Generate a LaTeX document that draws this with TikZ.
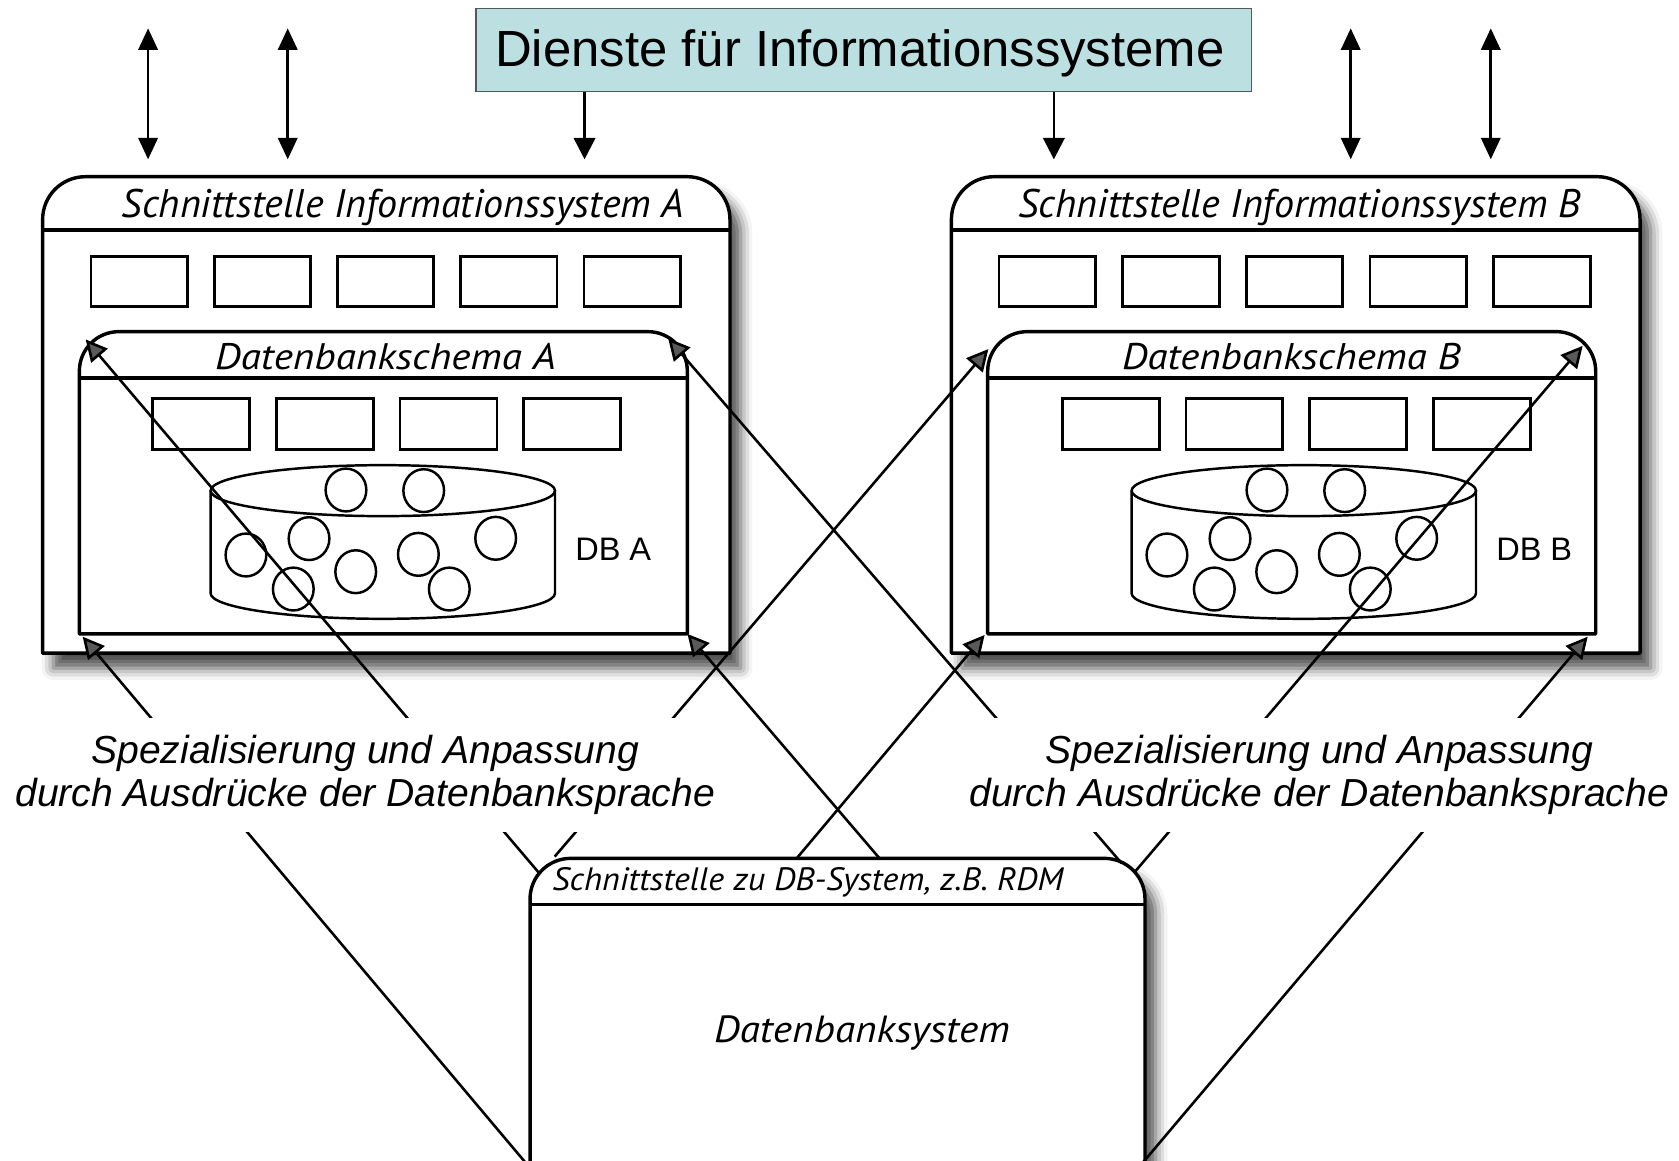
\documentclass[tikz,border=0pt]{standalone}
\usepackage{fontspec}
\setmainfont{Liberation Sans}
\newfontfamily\arialf{Liberation Sans}
\newfontfamily\myr{PT Sans}
\usetikzlibrary{arrows.meta,shadows.blur}
\definecolor{dienstfill}{RGB}{188,224,226}
\definecolor{dienstline}{RGB}{80,90,90}
\newcommand\dbcyl[3]{%
 \begin{scope}[shift={(#1,0)}]
  \draw[blob, fill=white] (-160.8,458.2) -- (-160.8,554.1)
     arc[start angle=180,end angle=0,x radius=160.8,y radius=23.8] -- (160.8,458.2);
  \draw[blob] (0,458.2) ellipse[x radius=160.8,y radius=23.8];
  \foreach \dx/\yy in {-34.4/457.6, 38.2/458.2, -127.8/518.3, -68.9/503, -83.6/550.1,
                       -25.3/533.9, 33.2/517.7, 62.1/550.1, 105.4/502.7}
    \draw[blob] (\dx,\yy) ellipse[x radius=19,y radius=20];
  \node[dblabel] (#3) at (215.2,523) {#2};
 \end{scope}}
\newcommand\topround[6]{% x1 y1 x2 y2 R style
  \path[#6] (#1,#4) -- (#1,#2+#5) to[out=90,in=180] (#1+#5,#2) -- (#3-#5,#2)
     to[out=0,in=90] (#3,#2+#5) -- (#3,#4) -- cycle;}
\newcommand\myrtext[3]{\resizebox{#1}{#2}{\myr\itshape #3}}
\begin{document}
\begin{tikzpicture}[x=1pt,y=-1pt,
  boxline/.style={line width=3.2pt, line join=round, draw=black, fill=white},
  sepline/.style={line width=3pt},
  cell/.style={line width=2.6pt},
  blob/.style={line width=2.3pt},
  conn/.style={line width=2.4pt},
  arr/.style={conn, -{Triangle[length=20pt,width=20pt]}},
  darr/.style={conn, {Triangle[length=20pt,width=18pt]}-{Triangle[length=20pt,width=18pt]}},
  shad/.style={blur shadow={shadow xshift=10pt, shadow yshift=-14pt, shadow blur radius=11pt, shadow opacity=70}},
  dblabel/.style={inner sep=0pt, anchor=base, font=\arialf\fontsize{30.4}{34}\selectfont},
  lbl/.style={fill=white, inner xsep=2pt, inner ysep=16pt, align=center,
              font=\arialf\itshape\fontsize{36.5}{40.5}\selectfont},
  ttl/.style={inner sep=0pt, anchor=base},
]
\useasboundingbox (0,0) rectangle (1568,1084);
\clip (0,0) rectangle (1568,1084);

% ---------- top box and vertical arrows
\node[draw=dienstline, line width=1.3pt, fill=dienstfill, minimum width=724.5pt,
      minimum height=77.8pt, inner sep=0pt] (dienste) at (806.75,46.7) {};
\node[inner sep=0pt, anchor=base, font=\arialf\fontsize{47.5}{52}\selectfont]
      (dienstetext) at (803,62.5) {Dienste für Informationssysteme};
\coordinate (a1t) at (138.3,26.5);  \coordinate (a1b) at (138.3,148.8);
\coordinate (a2t) at (268.7,26.5);  \coordinate (a2b) at (268.7,148.8);
\coordinate (a5t) at (1261.4,26.5); \coordinate (a5b) at (1261.4,148.8);
\coordinate (a6t) at (1392.2,26.5); \coordinate (a6b) at (1392.2,148.8);
\coordinate (a3b) at (545.9,148.8); \coordinate (a4b) at (984.2,148.8);
\draw[darr] (a1t) -- (a1b);
\draw[darr] (a2t) -- (a2b);
\draw[darr] (a5t) -- (a5b);
\draw[darr] (a6t) -- (a6b);
\draw[arr] (dienste.south -| a3b) -- (a3b);
\draw[arr] (dienste.south -| a4b) -- (a4b);

% ---------- system A
\topround{39.8}{165}{681.7}{610}{40}{boxline,shad}
\draw[sepline] (39.8,214.8) -- (681.7,214.8);
\node[ttl] (titleA) at (376.4,203) {\myrtext{525pt}{26.5pt}{Schnittstelle Informationssystem A}};
\foreach \i in {0,...,4} \draw[cell] ({84.9+115.1*\i},239.7) rectangle ++(90,46.7);
\topround{74.1}{309.7}{641.9}{592}{37}{boxline}
\draw[sepline] (74.1,353) -- (641.9,353);
\node[ttl] (schemaA) at (360,345.5) {\myrtext{318pt}{24.5pt}{Datenbankschema A}};
\foreach \i in {0,...,3} \draw[cell] ({142.6+115.5*\i},372) rectangle ++(90.5,47.6);
\dbcyl{357.5}{DB A}{dbA}

% ---------- system B
\topround{888.5}{165}{1531.6}{610}{40}{boxline,shad}
\draw[sepline] (888.5,214.8) -- (1531.6,214.8);
\node[ttl] (titleB) at (1213.8,203) {\myrtext{525pt}{26.5pt}{Schnittstelle Informationssystem B}};
\foreach \i in {0,...,4} \draw[cell] ({933+115.5*\i},239.7) rectangle ++(90,46.7);
\topround{922.4}{309.7}{1490.2}{592}{37}{boxline}
\draw[sepline] (922.4,353) -- (1490.2,353);
\node[ttl] (schemaB) at (1206,345.5) {\myrtext{316pt}{24.5pt}{Datenbankschema B}};
\foreach \i in {0,...,3} \draw[cell] ({992+115.5*\i},372) rectangle ++(90.5,47.6);
\dbcyl{1217.6}{DB B}{dbB}

% ---------- database system
\topround{495}{801.6}{1069.3}{1140}{38}{boxline,shad}
\draw[sepline] (495,844.5) -- (1069.3,844.5);
\node[ttl] (rdm) at (754.5,832) {\myrtext{477pt}{21.5pt}{Schnittstelle zu DB-System, z.B. RDM}};
\node[ttl] (dbs) at (805,974) {\myrtext{276pt}{25pt}{Datenbanksystem}};

% ---------- connector end points
\coordinate (tATL) at (80,317);    \coordinate (tATR) at (624,316);
\coordinate (tABL) at (77.2,594.6); \coordinate (tABR) at (642,592);
\coordinate (tBTL) at (923,326);   \coordinate (tBTR) at (1478,323);
\coordinate (tBBL) at (919.5,593); \coordinate (tBBR) at (1482.7,594.6);
\coordinate (s1) at (491,1086);    \coordinate (s8) at (1067,1086);
\coordinate (s2) at (503.7,815.6); \coordinate (s3) at (518,800);
\coordinate (s4) at (744,801.6);   \coordinate (s5) at (821.4,801.6);
\coordinate (s6) at (1047.5,806.2); \coordinate (s7) at (1060,814);

\draw[arr] (s1) -- (tABL);
\draw[arr] (s2) -- (tATL);
\draw[arr] (s3) -- (tBTL);
\draw[arr] (s4) -- (tBBL);
\draw[arr] (s5) -- (tABR);
\draw[arr] (s6) -- (tATR);
\draw[arr] (s7) -- (tBTR);
\draw[arr] (s8) -- (tBBR);

% ---------- labels
\node[lbl] (labA) at (341,723.5) {Spezialisierung und Anpassung\\durch Ausdrücke der Datenbanksprache};
\node[lbl] (labB) at (1232,723.5) {Spezialisierung und Anpassung\\durch Ausdrücke der Datenbanksprache};
\end{tikzpicture}
\end{document}
